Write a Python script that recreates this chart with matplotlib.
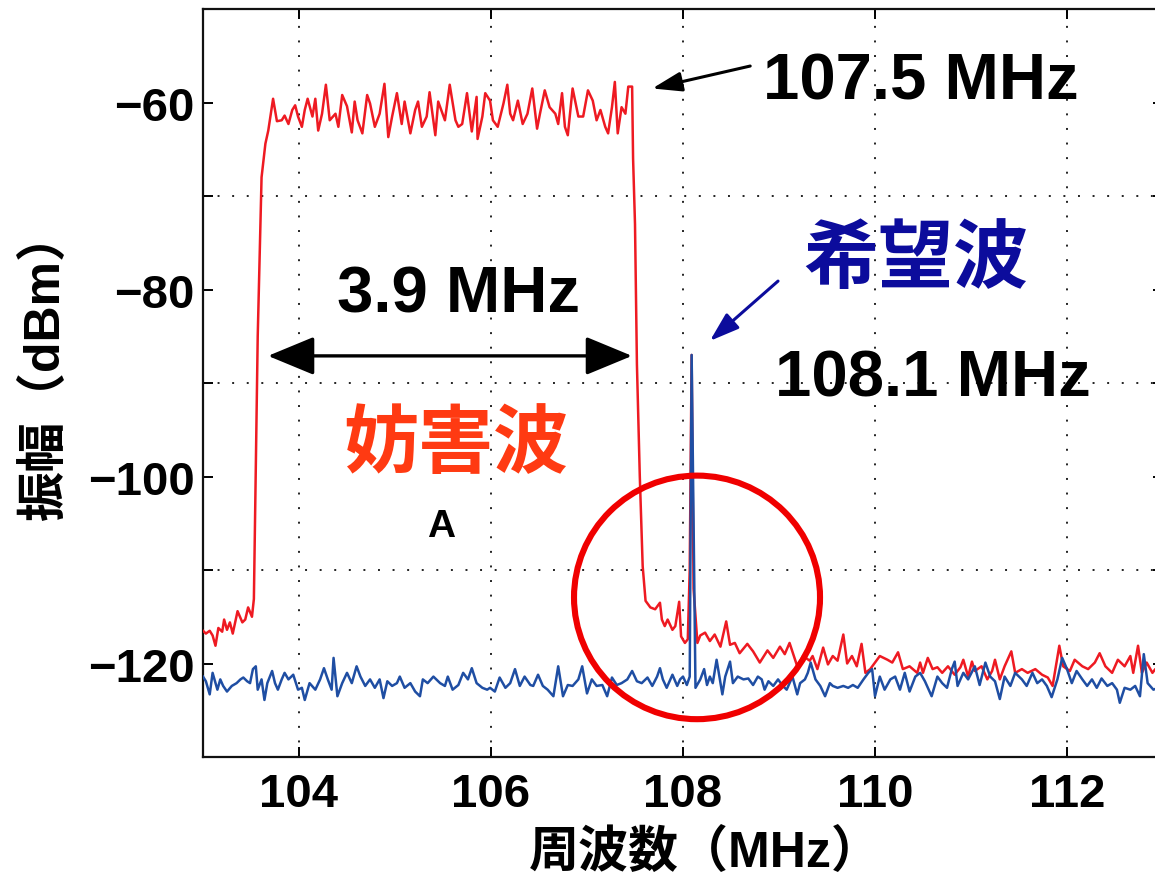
import matplotlib
matplotlib.use("Agg")
import matplotlib.pyplot as plt
from matplotlib.patches import Ellipse, FancyArrowPatch

# ---------------- data ----------------
red_freq = [
    103.00, 103.03, 103.07, 103.10, 103.13, 103.16, 103.20, 103.22, 103.25, 103.28,
    103.31, 103.36, 103.41, 103.44, 103.47, 103.51, 103.53, 103.57, 103.61, 103.65,
    103.68, 103.73, 103.77, 103.82, 103.85, 103.89, 103.93, 103.96, 103.99, 104.03,
    104.06, 104.09, 104.14, 104.17, 104.20, 104.24, 104.28, 104.32, 104.38, 104.41,
    104.45, 104.50, 104.55, 104.58, 104.61, 104.66, 104.71, 104.74, 104.79, 104.84,
    104.89, 104.93, 104.97, 105.02, 105.07, 105.10, 105.16, 105.21, 105.24, 105.28,
    105.33, 105.36, 105.42, 105.45, 105.52, 105.57, 105.63, 105.66, 105.70, 105.75,
    105.80, 105.85, 105.86, 105.91, 105.94, 105.99, 106.02, 106.07, 106.13, 106.17,
    106.20, 106.23, 106.28, 106.33, 106.38, 106.43, 106.48, 106.51, 106.56, 106.61,
    106.67, 106.70, 106.74, 106.77, 106.80, 106.85, 106.91, 106.96, 107.01, 107.06,
    107.10, 107.14, 107.19, 107.22, 107.26, 107.29, 107.32, 107.36, 107.40, 107.43,
    107.47, 107.48, 107.50, 107.52, 107.55, 107.58, 107.61, 107.66, 107.71, 107.76,
    107.78, 107.81, 107.84, 107.89, 107.92, 107.96, 107.98, 108.02, 108.05, 108.07,
    108.09, 108.11, 108.15, 108.18, 108.23, 108.28, 108.33, 108.39, 108.45, 108.49,
    108.54, 108.59, 108.67, 108.73, 108.80, 108.88, 108.94, 109.01, 109.06, 109.11,
    109.19, 109.25, 109.32, 109.35, 109.40, 109.46, 109.51, 109.56, 109.61, 109.67,
    109.71, 109.76, 109.81, 109.86, 109.90, 109.95, 110.00, 110.05, 110.13, 110.18,
    110.24, 110.29, 110.36, 110.44, 110.47, 110.50, 110.55, 110.60, 110.65, 110.70,
    110.76, 110.83, 110.89, 110.92, 110.97, 111.01, 111.04, 111.11, 111.17, 111.22,
    111.25, 111.30, 111.35, 111.42, 111.46, 111.53, 111.59, 111.67, 111.74, 111.80,
    111.85, 111.92, 111.96, 112.03, 112.08, 112.16, 112.22, 112.29, 112.34, 112.40,
    112.47, 112.53, 112.60, 112.66, 112.69, 112.74, 112.78, 112.83, 112.89, 112.92,
    113.00,
]
red_level = [
    -116.5, -116.8, -116.5, -117.0, -118.1, -116.2, -116.6, -115.3, -116.4, -115.6,
    -116.8, -114.4, -115.6, -115.3, -114.0, -115.0, -113.1, -85.0, -68.0, -64.4,
    -63.0, -59.6, -62.0, -61.9, -61.4, -62.3, -60.8, -60.3, -61.5, -62.6,
    -60.8, -59.6, -61.5, -59.6, -63.0, -61.2, -58.1, -61.9, -61.2, -62.6,
    -59.2, -60.4, -63.2, -59.9, -61.9, -63.3, -59.2, -60.1, -62.6, -61.2,
    -58.0, -63.7, -61.5, -59.0, -62.3, -59.9, -63.3, -60.8, -59.9, -62.6,
    -61.5, -58.9, -63.5, -59.9, -61.9, -58.1, -61.9, -62.6, -62.3, -59.0,
    -63.1, -59.4, -63.9, -61.5, -59.0, -59.8, -61.9, -62.6, -60.1, -58.1,
    -61.2, -61.9, -59.8, -62.3, -61.2, -58.5, -62.8, -61.2, -58.7, -60.5,
    -61.2, -62.3, -59.0, -62.6, -63.5, -58.5, -61.5, -61.5, -58.7, -59.8,
    -61.9, -60.8, -62.6, -63.3, -60.5, -57.8, -63.3, -60.5, -61.2, -58.3,
    -58.3, -66.0, -73.0, -88.0, -100.0, -109.6, -113.3, -114.0, -114.2, -113.5,
    -115.3, -116.0, -115.3, -116.4, -116.0, -113.4, -117.1, -117.8, -117.4, -110.0,
    -87.0, -112.0, -117.8, -117.0, -116.7, -117.6, -116.9, -118.2, -115.5, -118.0,
    -117.8, -118.9, -117.9, -118.7, -119.9, -118.6, -119.4, -118.2, -119.0, -117.8,
    -120.3, -119.2, -119.7, -119.2, -120.6, -118.3, -120.1, -119.2, -119.7, -116.9,
    -120.0, -119.2, -120.3, -117.9, -121.0, -120.6, -119.9, -119.2, -119.6, -119.9,
    -118.8, -120.6, -120.3, -121.0, -119.9, -121.0, -119.4, -120.6, -120.4, -121.0,
    -120.3, -121.2, -120.4, -119.6, -121.4, -119.8, -120.8, -120.3, -121.7, -120.8,
    -119.6, -121.7, -120.3, -118.7, -121.0, -120.6, -121.0, -120.6, -121.2, -121.5,
    -122.4, -118.1, -120.3, -120.8, -119.6, -120.3, -120.6, -119.9, -118.9, -120.3,
    -121.0, -119.6, -120.3, -119.2, -121.0, -118.1, -121.0, -119.9, -121.0, -120.6,
    -120.8,
]

blue_freq = [
    103.00, 103.03, 103.07, 103.10, 103.15, 103.18, 103.21, 103.25, 103.30, 103.35,
    103.39, 103.42, 103.46, 103.49, 103.52, 103.55, 103.57, 103.61, 103.64, 103.67,
    103.72, 103.75, 103.78, 103.82, 103.85, 103.89, 103.94, 103.99, 104.03, 104.06,
    104.11, 104.17, 104.22, 104.26, 104.30, 104.34, 104.36, 104.40, 104.45, 104.50,
    104.55, 104.60, 104.64, 104.69, 104.74, 104.79, 104.84, 104.88, 104.92, 104.97,
    105.02, 105.05, 105.10, 105.16, 105.21, 105.26, 105.29, 105.34, 105.40, 105.45,
    105.47, 105.52, 105.55, 105.60, 105.66, 105.71, 105.76, 105.80, 105.85, 105.91,
    105.96, 105.99, 106.04, 106.09, 106.15, 106.20, 106.25, 106.30, 106.35, 106.41,
    106.44, 106.49, 106.54, 106.59, 106.65, 106.70, 106.75, 106.80, 106.85, 106.91,
    106.95, 107.00, 107.05, 107.10, 107.16, 107.21, 107.26, 107.31, 107.36, 107.42,
    107.47, 107.52, 107.57, 107.63, 107.68, 107.73, 107.76, 107.79, 107.83, 107.89,
    107.94, 107.97, 108.00, 108.04, 108.07, 108.09, 108.13, 108.18, 108.22, 108.25,
    108.28, 108.31, 108.35, 108.41, 108.44, 108.49, 108.52, 108.57, 108.63, 108.68,
    108.73, 108.78, 108.82, 108.85, 108.89, 108.94, 108.99, 109.04, 109.08, 109.14,
    109.19, 109.22, 109.27, 109.30, 109.33, 109.38, 109.43, 109.48, 109.53, 109.56,
    109.61, 109.67, 109.72, 109.77, 109.82, 109.88, 109.93, 109.97, 110.00, 110.05,
    110.10, 110.16, 110.21, 110.26, 110.31, 110.36, 110.42, 110.47, 110.52, 110.59,
    110.65, 110.70, 110.75, 110.80, 110.83, 110.86, 110.92, 110.97, 111.04, 111.09,
    111.15, 111.20, 111.25, 111.30, 111.35, 111.41, 111.46, 111.53, 111.58, 111.64,
    111.69, 111.74, 111.79, 111.84, 111.90, 111.95, 112.00, 112.05, 112.10, 112.16,
    112.21, 112.26, 112.31, 112.36, 112.42, 112.47, 112.52, 112.55, 112.60, 112.66,
    112.71, 112.76, 112.80, 112.84, 112.90, 113.00,
]
blue_level = [
    -121.4, -121.9, -123.3, -121.0, -122.8, -121.7, -122.4, -123.0, -122.4, -122.1,
    -121.7, -121.5, -121.9, -122.1, -120.6, -120.3, -122.8, -121.7, -123.9, -122.1,
    -120.8, -122.1, -122.8, -121.7, -121.0, -121.7, -121.2, -122.8, -122.6, -123.9,
    -122.1, -122.8, -121.7, -120.5, -121.7, -122.8, -119.4, -123.5, -122.1, -121.0,
    -122.1, -120.3, -121.4, -122.4, -121.7, -122.6, -121.7, -123.7, -121.9, -122.4,
    -122.1, -121.4, -122.6, -122.1, -123.0, -123.5, -121.7, -122.1, -121.4, -121.9,
    -122.1, -122.4, -121.4, -122.8, -122.3, -121.0, -121.7, -120.5, -122.1, -122.6,
    -122.8, -122.6, -123.0, -121.5, -122.6, -122.1, -120.6, -122.4, -121.4, -122.3,
    -122.4, -121.2, -122.4, -122.8, -123.5, -120.3, -123.5, -122.3, -122.4, -121.7,
    -120.3, -123.2, -121.7, -122.4, -122.3, -123.5, -121.5, -122.3, -122.1, -121.7,
    -120.8, -121.9, -122.1, -121.5, -122.4, -121.4, -120.5, -121.7, -122.6, -121.2,
    -122.4, -121.7, -121.4, -122.3, -121.4, -87.0, -122.6, -121.7, -120.6, -122.3,
    -121.4, -122.1, -119.6, -123.3, -121.4, -119.8, -122.1, -121.4, -121.7, -121.6,
    -122.3, -121.4, -121.7, -122.8, -121.9, -122.4, -121.7, -122.4, -122.8, -121.4,
    -123.3, -122.1, -121.7, -121.0, -119.9, -121.7, -122.4, -123.5, -122.1, -122.4,
    -122.6, -122.4, -122.6, -122.3, -122.6, -121.7, -121.0, -120.6, -123.5, -121.4,
    -122.8, -121.7, -121.4, -122.8, -121.0, -123.0, -121.4, -121.0, -121.9, -123.5,
    -121.4, -122.1, -122.6, -120.6, -119.8, -122.4, -121.0, -121.7, -120.3, -122.3,
    -119.9, -121.4, -121.9, -123.8, -121.4, -122.4, -121.0, -121.7, -122.4, -121.0,
    -122.1, -121.7, -122.4, -123.6, -121.7, -119.4, -120.6, -122.1, -120.8, -121.7,
    -122.4, -121.7, -122.6, -121.6, -122.4, -122.1, -122.8, -124.2, -122.6, -122.8,
    -122.4, -123.5, -119.0, -122.1, -122.8, -122.4,
]

x_ticks = [104, 106, 108, 110, 112]
y_ticks = [-130, -120, -110, -100, -90, -80, -70, -60, -50]
y_ticklabels = ["", "\u2212120", "", "\u2212100", "", "\u221280", "", "\u221260", ""]
y_grid = [-70, -90, -110]

# ---------------- figure ----------------
W, H = 1155, 879
fig = plt.figure(figsize=(W / 100, H / 100), dpi=100)
ax = fig.add_axes([203 / W, 1 - 758 / H, 960 / W, 748 / H])

LAT = ["Liberation Sans", "Noto Sans CJK JP", "DejaVu Sans"]
CJK = ["Noto Sans CJK JP", "DejaVu Sans"]

ax.plot(red_freq, red_level, color="#ee1a22", lw=1.8, zorder=3)
ax.plot(blue_freq, blue_level, color="#1f4ea3", lw=1.8, zorder=4)

ax.set_xlim(103, 113)
ax.set_ylim(-130, -50)

# grid (dotted)
for xv in x_ticks:
    ax.axvline(xv, color="#222222", lw=1.4, ls=(0, (1, 6.5)), zorder=1)
for yv in y_grid:
    ax.axhline(yv, color="#222222", lw=1.4, ls=(0, (1, 6.5)), zorder=1)

ax.set_xticks(x_ticks)
ax.set_xticklabels([str(v) for v in x_ticks])
ax.set_yticks(y_ticks)
ax.set_yticklabels(y_ticklabels)
ax.tick_params(direction="in", length=7, width=1.4, top=True, right=True,
               labelsize=34, colors="black")
ax.tick_params(axis="x", pad=11)
ax.tick_params(axis="y", pad=6)
for lab in ax.get_xticklabels() + ax.get_yticklabels():
    lab.set_fontfamily(LAT)
    lab.set_fontweight("bold")
for sp in ax.spines.values():
    sp.set_linewidth(1.6)
    sp.set_color("#111111")

# axis labels
fig.text(45 / W, 1 - 365 / H, "振幅（dBm）", rotation=90, ha="center", va="center",
         fontsize=36, fontweight="bold", family=LAT)
fig.text(705 / W, 1 - 853 / H, "周波数（MHz）", ha="center", va="center",
         fontsize=36, fontweight="bold", family=LAT)

# annotations
ax.text(110.48, -59.6, "107.5 MHz", ha="center", va="baseline", fontsize=47,
        fontweight="bold", family=LAT, zorder=6)
ax.text(105.66, -82.3, "3.9 MHz", ha="center", va="baseline", fontsize=47,
        fontweight="bold", family=LAT, zorder=6)
ax.text(110.60, -91.3, "108.1 MHz", ha="center", va="baseline", fontsize=47,
        fontweight="bold", family=LAT, zorder=6)
ax.text(110.42, -76.7, "希望波", ha="center", va="center", fontsize=54,
        fontweight="bold", family=CJK, color="#0c0c9c", zorder=6)
ax.text(105.63, -96.5, "妨害波", ha="center", va="center", fontsize=54,
        fontweight="bold", family=CJK, color="#ff3a12", zorder=6)
ax.text(105.48, -106.4, "A", ha="center", va="baseline", fontsize=28,
        fontweight="bold", family=LAT, zorder=6)

# arrows
ax.add_patch(FancyArrowPatch((103.677, -87.1), (107.469, -87.1),
                             arrowstyle="<|-|>,head_length=29,head_width=12",
                             mutation_scale=1, lw=2.4, color="black",
                             shrinkA=0, shrinkB=0, zorder=6))
ax.add_patch(FancyArrowPatch((108.70, -56.1), (107.68, -58.5),
                             arrowstyle="-|>,head_length=18,head_width=6",
                             mutation_scale=1, lw=2.2, color="black",
                             shrinkA=0, shrinkB=0, zorder=6))
ax.add_patch(FancyArrowPatch((108.99, -79.1), (108.28, -85.5),
                             arrowstyle="-|>,head_length=18,head_width=6",
                             mutation_scale=1, lw=2.2, color="#0c0c9c",
                             shrinkA=0, shrinkB=0, zorder=6))

# red circle
ax.add_patch(Ellipse((108.146, -112.93), 2.5625, 26.05, fill=False,
                     edgecolor="#f00000", lw=4.4, zorder=5))

fig.savefig("out.png", dpi=100)
